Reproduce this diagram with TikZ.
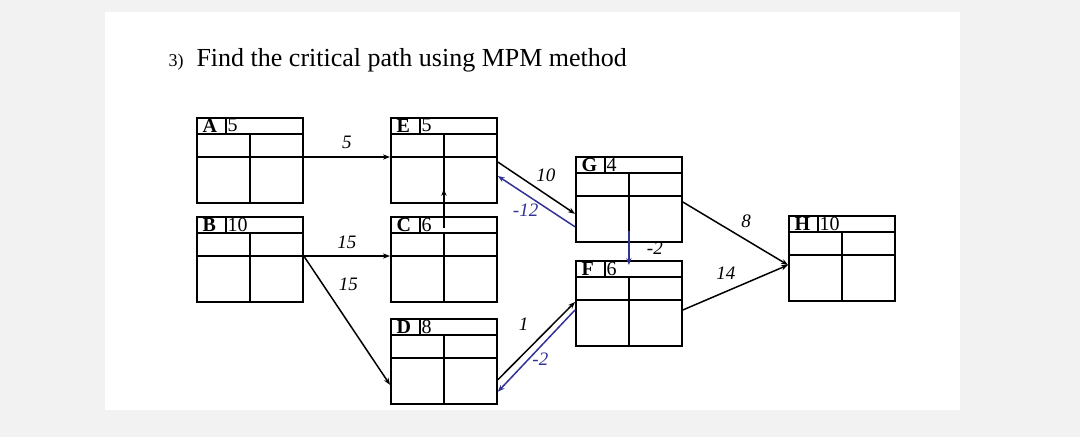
\documentclass[tikz,border=0pt]{standalone}
\usepackage{fontspec}
\setmainfont{Liberation Serif}
\usetikzlibrary{calc, arrows.meta, positioning}
\definecolor{mainBlue}{RGB}{50,50,150}
\definecolor{sideGray}{gray}{0.95}

% one MPM box: name, x, y, letter, duration
\newcommand{\mpmbox}[5]{%
    \node[mpm] (#1) at (#2,#3) {};
    \draw[line width=1.8pt] ($(#1.north west)+(0,17)$) -- ($(#1.north east)+(0,17)$);
    \draw[line width=1.8pt] ($(#1.north west)+(0,40)$) -- ($(#1.north east)+(0,40)$);
    \draw[line width=1.8pt] ($(#1.north west)+(30,0)$) -- ($(#1.north west)+(30,17)$);
    \draw[line width=1.8pt] ($(#1.north)+(0,17)$) -- (#1.south);
    \node[font=\bfseries\fontsize{20}{20}\selectfont, anchor=west] at ($(#1.north west)+(3,8.5)$) {#4};
    \node[font=\fontsize{20}{20}\selectfont, anchor=west] at ($(#1.north west)+(28,8.5)$) {#5};
    \coordinate (#1-in) at ($(#1.north west)+(0,40)$);
    \coordinate (#1-out) at ($(#1.north east)+(0,40)$);
}

\begin{document}
\begin{tikzpicture}[x=1pt, y=-1pt,
    mpm/.style={draw, line width=1.8pt, rectangle, minimum width=106pt, minimum height=85pt, anchor=north west, inner sep=0pt},
    arc/.style={-{Stealth[length=7pt]}, line width=1.5pt},
    back/.style={-{Stealth[length=7pt]}, line width=1.5pt, mainBlue},
    lbl/.style={font=\itshape\fontsize{19}{19}\selectfont}]
    \useasboundingbox (0,0) rectangle (1080,437);
    \fill[sideGray] (0,0) rectangle (1080,437);
    \fill[white] (105,12) rectangle (960,410);

    \node[anchor=west, font=\fontsize{26}{26}\selectfont] (title) at (165,60)
        {{\fontsize{18}{18}\selectfont 3)}\ \ Find the critical path using MPM method};

    \mpmbox{A}{196}{117}{A}{5}
    \mpmbox{B}{196}{216}{B}{10}
    \mpmbox{E}{390}{117}{E}{5}
    \mpmbox{C}{390}{216}{C}{6}
    \mpmbox{D}{390}{318}{D}{8}
    \mpmbox{G}{575}{156}{G}{4}
    \mpmbox{F}{575}{260}{F}{6}
    \mpmbox{H}{788}{215}{H}{10}

    % forward arcs
    \draw[arc] (A-out) -- node[lbl, above=4pt] {5} (E-in);
    \draw[arc] (B-out) -- node[lbl, above=3pt] {15} (C-in);
    \draw[arc] (B-out) -- node[lbl, pos=0.22, right=12pt] {15} ($(D.south west)+(0,-20)$);
    \draw[arc] ($(C.north)+(0,12)$) -- ($(E.south)+(0,-15)$);
    \draw[arc] ($(E-out)+(0,5)$) -- node[lbl, above right=2pt and -4pt] {10} ($(G.south west)+(0,-29)$);
    \draw[arc] ($(D.south east)+(0,-25)$) -- node[lbl, above left=6pt and 4pt] {1} ($(F.north west)+(0,42)$);
    \coordinate (hin) at ($(H-in)+(0,10)$);
    \draw[arc] ($(G.north east)+(0,46)$) -- node[lbl, above right=2pt and 2pt] {8} (hin);
    \draw[arc] ($(F.north east)+(0,50)$) -- node[lbl, above left=4pt and -4pt] {14} (hin);

    % backward arcs
    \draw[back] ($(G.south west)+(0,-16)$) -- node[lbl, below left=-2pt and -6pt] {-12} ($(E-out)+(0,19)$);
    \draw[back] ($(G.south)+(0,-12)$) -- node[lbl, right=14pt, black] {-2} ($(F.north)+(0,5)$);
    \draw[back] ($(F.north west)+(0,50)$) -- node[lbl, below right=-2pt and -8pt] {-2} ($(D.south east)+(0,-13)$);
\end{tikzpicture}
\end{document}
